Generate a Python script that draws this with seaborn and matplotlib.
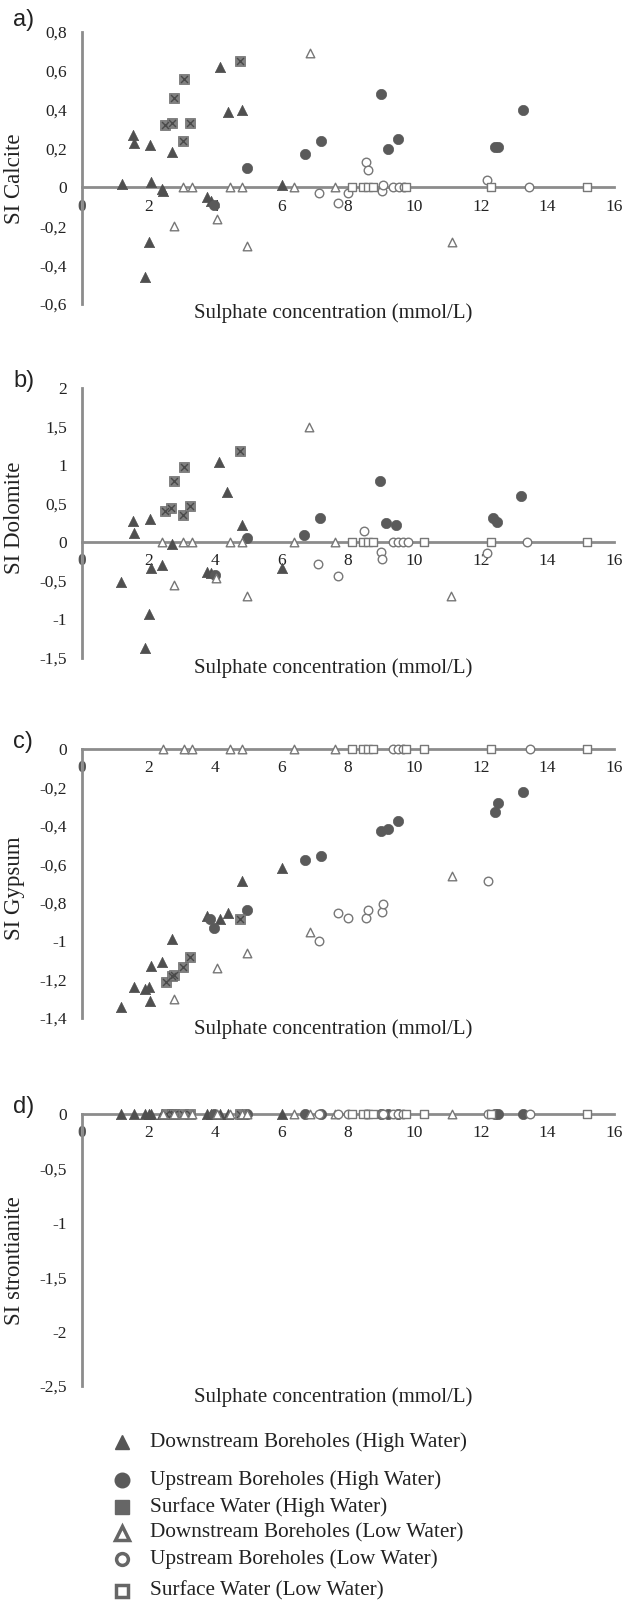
import matplotlib
matplotlib.use('Agg')
import matplotlib.pyplot as plt
import seaborn as sns

sns.set_style('white')
plt.rcParams['font.family'] = ['Liberation Serif', 'DejaVu Serif']

# --- a) SI Calcite ---
a_dh_x = [1.2, 1.53, 1.56, 1.88, 2.0, 2.04, 2.07, 2.4, 2.45, 2.7, 3.75, 3.87, 4.14, 4.38, 4.82, 6.03]
a_dh_y = [0.02, 0.27, 0.23, -0.46, -0.28, 0.22, 0.03, -0.01, -0.02, 0.18, -0.05, -0.07, 0.62, 0.39, 0.40, 0.01]
a_uh_x = [3.96, 4.95, 6.71, 7.19, 8.99, 9.2, 9.49, 12.41, 12.5, 13.25]
a_uh_y = [-0.09, 0.10, 0.17, 0.24, 0.48, 0.20, 0.25, 0.21, 0.21, 0.40]
a_sh_x = [2.5, 2.7, 2.78, 3.03, 3.06, 3.26, 4.76]
a_sh_y = [0.32, 0.33, 0.46, 0.24, 0.56, 0.33, 0.65]
a_dl_x = [2.78, 3.03, 3.3, 4.05, 4.45, 4.82, 4.97, 6.38, 6.87, 7.6, 11.13]
a_dl_y = [-0.20, 0, 0, -0.16, 0, 0, -0.30, 0, 0.69, 0, -0.28]
a_ul_x = [7.13, 7.71, 8.0, 8.55, 8.61, 9.02, 9.05, 9.35, 9.53, 9.69, 12.19, 13.45]
a_ul_y = [-0.03, -0.08, -0.03, 0.13, 0.09, -0.02, 0.01, 0, 0, 0, 0.04, 0]
a_sl_x = [8.12, 8.45, 8.6, 8.75, 9.75, 12.29, 15.19]
a_sl_y = [0, 0, 0, 0, 0, 0, 0]

# --- b) SI Dolomite ---
b_dh_x = [1.18, 1.53, 1.56, 1.88, 2.0, 2.04, 2.07, 2.4, 2.7, 3.75, 3.87, 4.11, 4.35, 4.8, 6.03]
b_dh_y = [-0.52, 0.28, 0.12, -1.37, -0.93, 0.30, -0.33, -0.30, -0.02, -0.39, -0.40, 1.04, 0.65, 0.22, -0.33]
b_uh_x = [4.0, 4.95, 6.69, 7.16, 8.97, 9.15, 9.45, 12.37, 12.47, 13.19]
b_uh_y = [-0.43, 0.05, 0.09, 0.32, 0.80, 0.25, 0.22, 0.32, 0.26, 0.60]
b_sh_x = [2.5, 2.67, 2.78, 3.03, 3.06, 3.26, 4.74]
b_sh_y = [0.41, 0.45, 0.80, 0.35, 0.98, 0.47, 1.18]
b_dl_x = [2.4, 2.78, 3.03, 3.3, 4.02, 4.45, 4.82, 4.95, 6.38, 6.83, 7.6, 11.09]
b_dl_y = [0, -0.55, 0, 0, -0.46, 0, 0, -0.70, 0, 1.50, 0, -0.70]
b_ul_x = [7.11, 7.7, 8.49, 8.99, 9.02, 9.35, 9.5, 9.65, 9.8, 12.17, 13.39]
b_ul_y = [-0.28, -0.44, 0.14, -0.13, -0.22, 0, 0, 0, 0, -0.14, 0]
b_sl_x = [8.12, 8.45, 8.6, 8.75, 10.29, 12.29, 15.19]
b_sl_y = [0, 0, 0, 0, 0, 0, 0]

# --- c) SI Gypsum ---
c_dh_x = [1.18, 1.56, 1.88, 2.0, 2.04, 2.07, 2.4, 2.7, 3.75, 4.14, 4.38, 4.82, 6.03]
c_dh_y = [-1.345, -1.24, -1.25, -1.24, -1.31, -1.13, -1.11, -0.99, -0.87, -0.886, -0.854, -0.686, -0.617]
c_uh_x = [3.84, 3.96, 4.95, 6.71, 7.19, 8.99, 9.2, 9.49, 12.41, 12.5, 13.27]
c_uh_y = [-0.886, -0.93, -0.837, -0.577, -0.556, -0.425, -0.414, -0.374, -0.326, -0.283, -0.224]
c_sh_x = [2.52, 2.7, 2.78, 3.03, 3.26, 4.76]
c_sh_y = [-1.213, -1.18, -1.175, -1.137, -1.085, -0.884]
c_dl_x = [2.45, 2.78, 3.07, 3.3, 4.05, 4.45, 4.82, 4.95, 6.38, 6.87, 7.6, 11.13]
c_dl_y = [0, -1.30, 0, 0, -1.14, 0, 0, -1.06, 0, -0.95, 0, -0.66]
c_ul_x = [7.13, 7.71, 8.0, 8.55, 8.61, 9.03, 9.05, 9.35, 9.5, 9.65, 12.2, 13.46]
c_ul_y = [-1.0, -0.854, -0.877, -0.877, -0.837, -0.849, -0.806, 0, 0, 0, -0.686, 0]
c_sl_x = [8.12, 8.45, 8.6, 8.75, 9.75, 10.29, 12.29, 15.19]
c_sl_y = [0, 0, 0, 0, 0, 0, 0, 0]

# --- d) SI strontianite ---
d_dh_x = [1.18, 1.56, 1.88, 2.0, 2.07, 2.4, 2.7, 3.75, 3.87, 4.14, 4.38, 4.82, 6.03]
d_dh_y = [0, 0, 0, 0, 0, 0, 0, 0, 0, 0, 0, 0, 0]
d_uh_x = [3.96, 4.95, 6.71, 7.19, 8.99, 9.2, 9.49, 12.41, 12.5, 13.27]
d_uh_y = [0, 0, 0, 0, 0, 0, 0, 0, 0, 0]
d_sh_x = [2.52, 2.7, 2.78, 3.03, 3.26, 4.76]
d_sh_y = [0, 0, 0, 0, 0, 0]
d_dl_x = [2.45, 2.78, 3.07, 3.3, 4.05, 4.45, 4.82, 4.95, 6.38, 6.87, 7.6, 11.13]
d_dl_y = [0, 0, 0, 0, 0, 0, 0, 0, 0, 0, 0, 0]
d_ul_x = [7.13, 7.71, 8.0, 8.55, 8.61, 9.03, 9.05, 9.35, 9.5, 9.65, 12.2, 13.46]
d_ul_y = [0, 0, 0, 0, 0, 0, 0, 0, 0, 0, 0, 0]
d_sl_x = [8.12, 8.45, 8.6, 8.75, 9.75, 10.29, 12.29, 15.19]
d_sl_y = [0, 0, 0, 0, 0, 0, 0, 0]

a_yticks = [-0.6, -0.4, -0.2, 0, 0.2, 0.4, 0.6, 0.8]
b_yticks = [-1.5, -1, -0.5, 0, 0.5, 1, 1.5, 2]
c_yticks = [-1.4, -1.2, -1, -0.8, -0.6, -0.4, -0.2, 0]
d_yticks = [-2.5, -2, -1.5, -1, -0.5, 0]
xticks = [0, 2, 4, 6, 8, 10, 12, 14, 16]

legend_labels = ['Downstream Boreholes (High Water)', 'Upstream Boreholes (High Water)',
                 'Surface Water (High Water)', 'Downstream Boreholes (Low Water)',
                 'Upstream Boreholes (Low Water)', 'Surface Water (Low Water)']

AX_COL = '#8c8c8c'
TXT = '#222222'


def fmt(v):
    s = f'{v:g}'.replace('.', ',')
    return '0' if s == '-0' else s


def draw_series(ax, dh, uh, sh, dl, ul, sl):
    kw = dict(ax=ax, clip_on=False, zorder=4, legend=False)
    sns.scatterplot(x=dh[0], y=dh[1], marker='^', s=55, color='#4f4f4f', edgecolor='#4f4f4f', linewidth=0.5, **kw)
    sns.scatterplot(x=uh[0], y=uh[1], marker='o', s=55, color='#5a5a5a', edgecolor='#5a5a5a', linewidth=0.5, **kw)
    sns.scatterplot(x=sh[0], y=sh[1], marker='s', s=45, color='#808080', edgecolor='#6a6a6a', linewidth=0.5, **kw)
    sns.scatterplot(x=sh[0], y=sh[1], marker='x', s=25, color='#4a4a4a', linewidth=1.0, **kw)
    sns.scatterplot(x=dl[0], y=dl[1], marker='^', s=38, facecolor='white', edgecolor='#777777', linewidth=1.0, **kw)
    sns.scatterplot(x=ul[0], y=ul[1], marker='o', s=38, facecolor='white', edgecolor='#777777', linewidth=1.0, **kw)
    sns.scatterplot(x=sl[0], y=sl[1], marker='s', s=34, facecolor='white', edgecolor='#777777', linewidth=1.0, **kw)


def setup(ax, yticks, ylabel, label_y):
    ax.set_xlim(0, 16)
    ax.set_ylim(min(yticks), max(yticks))
    for side in ['top', 'right']:
        ax.spines[side].set_visible(False)
    ax.spines['bottom'].set_position(('data', 0))
    for side in ['bottom', 'left']:
        ax.spines[side].set_color(AX_COL)
        ax.spines[side].set_linewidth(2)
        ax.spines[side].set_zorder(2)
    ax.set_xticks(xticks)
    ax.set_xticklabels([fmt(v) for v in xticks])
    ax.set_yticks(yticks)
    ax.set_yticklabels([fmt(v) for v in yticks])
    ax.tick_params(length=0, labelsize=12.5, colors=TXT)
    ax.tick_params(axis='x', pad=8)
    ax.tick_params(axis='y', pad=11)
    zero = ax.get_xticklabels()[0]
    zero.set_fontweight('bold')
    zero.set_color('#555555')
    ax.set_xlabel('')
    ax.set_ylabel(ylabel, fontsize=16.5, color=TXT)
    ax.yaxis.set_label_coords(-0.107, label_y)
    ax.patch.set_alpha(0)


fig = plt.figure(figsize=(6.24, 16.02), dpi=100)
W, H = 624.0, 1602.0


def add_axes(top_px, bot_px):
    return fig.add_axes([82 / W, 1 - bot_px / H, 532 / W, (bot_px - top_px) / H])


ax_a = add_axes(32, 304)
ax_b = add_axes(388, 658)
ax_c = add_axes(749, 1018)
ax_d = add_axes(1114, 1386)

draw_series(ax_a, (a_dh_x, a_dh_y), (a_uh_x, a_uh_y), (a_sh_x, a_sh_y),
            (a_dl_x, a_dl_y), (a_ul_x, a_ul_y), (a_sl_x, a_sl_y))
draw_series(ax_b, (b_dh_x, b_dh_y), (b_uh_x, b_uh_y), (b_sh_x, b_sh_y),
            (b_dl_x, b_dl_y), (b_ul_x, b_ul_y), (b_sl_x, b_sl_y))
draw_series(ax_c, (c_dh_x, c_dh_y), (c_uh_x, c_uh_y), (c_sh_x, c_sh_y),
            (c_dl_x, c_dl_y), (c_ul_x, c_ul_y), (c_sl_x, c_sl_y))
draw_series(ax_d, (d_dh_x, d_dh_y), (d_uh_x, d_uh_y), (d_sh_x, d_sh_y),
            (d_dl_x, d_dl_y), (d_ul_x, d_ul_y), (d_sl_x, d_sl_y))

setup(ax_a, a_yticks, 'SI Calcite', 0.46)
setup(ax_b, b_yticks, 'SI Dolomite', 0.52)
setup(ax_c, c_yticks, 'SI Gypsum', 0.483)
setup(ax_d, d_yticks, 'SI strontianite', 0.46)

# x-axis titles and panel letters
for y_px in [313, 668, 1029, 1397]:
    fig.text(333 / W, 1 - y_px / H, 'Sulphate concentration (mmol/L)', fontsize=15,
             color=TXT, ha='center', va='center')
for letter, y_px in zip(['a)', 'b)', 'c)', 'd)'], [20, 381, 742, 1107]):
    fig.text(13 / W, 1 - y_px / H, letter, fontsize=17, family=['Liberation Sans', 'DejaVu Sans'],
             color=TXT, ha='left', va='center')

# legend drawn by hand so the uneven row spacing matches
leg = fig.add_axes([0, 0, 1, 1])
leg.set_xlim(0, W)
leg.set_ylim(H, 0)
leg.axis('off')
leg_rows = [1442, 1480, 1507, 1533, 1559, 1591]
leg_styles = [
    dict(marker='^', ms=10.5, color='#555555', mec='#555555'),
    dict(marker='o', ms=10.5, color='#5a5a5a', mec='#5a5a5a'),
    dict(marker='s', ms=10.5, color='#666666', mec='#666666'),
    dict(marker='^', ms=9.5, color='white', mec='#666666', mew=2.5),
    dict(marker='o', ms=8.5, color='white', mec='#666666', mew=2.5),
    dict(marker='s', ms=9, color='white', mec='#666666', mew=2.5),
]
for y_px, label, st in zip(leg_rows, legend_labels, leg_styles):
    leg.plot([122], [y_px], linestyle='none', **st)
    leg.text(150, y_px, label, fontsize=15.3, color=TXT, va='center', ha='left')

fig.savefig('out.png', dpi=100, facecolor='white')
